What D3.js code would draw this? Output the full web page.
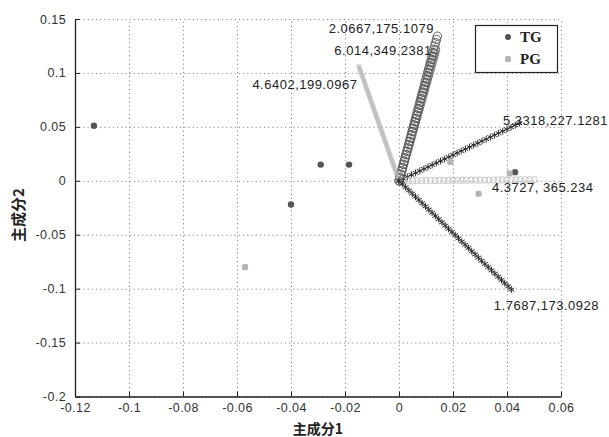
<!DOCTYPE html>
<html lang="zh">
<head>
<meta charset="UTF-8">
<title>主成分</title>
<script src="https://cdn.jsdelivr.net/npm/d3@7/dist/d3.min.js"></script>
<style>
  body { margin: 0; background: #fff; }
  text { font-family: "Liberation Sans", Arial, sans-serif; }
</style>
</head>
<body>
<svg width="609" height="437"></svg>
<script>
// 刻度
var xTicks = [-0.12, -0.1, -0.08, -0.06, -0.04, -0.02, 0, 0.02, 0.04, 0.06];
var yTicks = [-0.2, -0.15, -0.1, -0.05, 0, 0.05, 0.1, 0.15];

// 样本得分
var tgX = [-0.113, -0.029, -0.0185, -0.040, 0.043];
var tgY = [0.051, 0.015, 0.015, -0.022, 0.008];
var pgX = [-0.057, 0.0295, 0.019, 0.041];
var pgY = [-0.080, -0.012, 0.0175, 0.007];

// 载荷向量端点
var vecLabels = ["2.0667,175.1079", "6.014,349.2381", "4.6402,199.0967",
                 "5.3318,227.1281", "4.3727, 365.234", "1.7687,173.0928"];
var vecX = [0.0144, 0.0136, -0.0150, 0.0448, 0.050, 0.0418];
var vecY = [0.136, 0.122, 0.107, 0.0536, 0.001, -0.1013];

// 样式（与数据分开）
var vecStyle = [
  {type: "circle", color: "#505050", step: 3.4, size: 4.2, lx: -4, ly: -1, anchor: "end"},
  {type: "circle", color: "#5a5a5a", step: 3.4, size: 4.2, lx: -4, ly: 6, anchor: "end"},
  {type: "square", color: "#b4b4b4", step: 1.6, size: 4.5, lx: -1, ly: 24, anchor: "end"},
  {type: "star", color: "#2a2a2a", step: 4.6, size: 4, lx: -17, ly: 2, anchor: "start"},
  {type: "circle", color: "#c2c2c2", step: 4.5, size: 3.2, lx: -42, ly: 12, anchor: "start"},
  {type: "star", color: "#2a2a2a", step: 4.6, size: 4, lx: -18, ly: 20, anchor: "start"}
];

var svg = d3.select("svg");
var x = d3.scaleLinear().domain([-0.12, 0.06]).range([75, 561]);
var y = d3.scaleLinear().domain([-0.2, 0.15]).range([396.5, 19]);

// 网格
var grid = svg.append("g").attr("stroke", "#8a8a8a").attr("stroke-width", 1)
  .attr("stroke-dasharray", "1.2,3");
grid.selectAll(".gx").data(xTicks).enter().append("line")
  .attr("x1", d => x(d) + 0.5).attr("x2", d => x(d) + 0.5)
  .attr("y1", y(-0.2)).attr("y2", y(0.15));
grid.selectAll(".gy").data(yTicks).enter().append("line")
  .attr("x1", x(-0.12)).attr("x2", x(0.06))
  .attr("y1", d => y(d) + 0.5).attr("y2", d => y(d) + 0.5);

// 坐标轴
var fmt = d => String(+d.toFixed(2));
var xAxis = d3.axisBottom(x).tickValues(xTicks).tickSizeInner(-5).tickSizeOuter(0)
  .tickPadding(7).tickFormat(fmt);
var yAxis = d3.axisLeft(y).tickValues(yTicks).tickSizeInner(-5).tickSizeOuter(0)
  .tickPadding(9).tickFormat(fmt);

var gx = svg.append("g").attr("transform", "translate(0," + y(-0.2) + ")").call(xAxis);
var gy = svg.append("g").attr("transform", "translate(" + x(-0.12) + ",0)").call(yAxis);
[gx, gy].forEach(function(g) {
  g.select(".domain").attr("stroke", "#222").attr("stroke-width", 1.3);
  g.selectAll(".tick line").attr("stroke", "#222");
  g.selectAll(".tick text").attr("fill", "#333").attr("font-size", 12.5)
    .attr("letter-spacing", 0.4).attr("font-family", "Liberation Sans, Arial, sans-serif");
});

svg.append("text").attr("x", 318).attr("y", 434).attr("text-anchor", "middle")
  .attr("font-size", 14).attr("font-weight", "bold").attr("fill", "#222")
  .style("font-family", "'Noto Sans CJK SC', sans-serif").text("主成分1");
svg.append("text").attr("transform", "translate(24,215) rotate(-90)").attr("text-anchor", "middle")
  .attr("font-size", 15).attr("font-weight", "bold").attr("fill", "#222")
  .style("font-family", "'Noto Sans CJK SC', sans-serif").text("主成分2");

// 向量
var x0 = x(0), y0 = y(0);
var line = d3.line();
var vg = svg.append("g");
vecX.forEach(function(vx, i) {
  var st = vecStyle[i];
  var path = vg.append("path").attr("d", line([[x0, y0], [x(vx), y(vecY[i])]]))
    .attr("stroke", "none").attr("fill", "none");
  var node = path.node(), len = node.getTotalLength();
  var marks = vg.append("g");
  for (var s = 0; s <= len; s += st.step) {
    var p = node.getPointAtLength(s);
    if (st.type === "circle") {
      marks.append("circle").attr("cx", p.x).attr("cy", p.y).attr("r", st.size)
        .attr("fill", "none").attr("stroke", st.color).attr("stroke-width", 0.9);
    } else if (st.type === "square") {
      marks.append("rect").attr("x", p.x - st.size / 2).attr("y", p.y - st.size / 2)
        .attr("width", st.size).attr("height", st.size)
        .attr("fill", st.color).attr("opacity", 0.45);
    } else {
      marks.append("path").attr("transform", "translate(" + p.x + "," + p.y + ")")
        .attr("d", d3.symbol(d3.symbolAsterisk, 32)())
        .attr("fill", "none").attr("stroke", st.color).attr("stroke-width", 1);
    }
  }
  svg.append("text").attr("x", x(vx) + st.lx).attr("y", y(vecY[i]) + st.ly)
    .attr("text-anchor", st.anchor).attr("font-size", 13).attr("letter-spacing", 0.5)
    .attr("fill", "#222").text(vecLabels[i]);
});

// 样本点
svg.append("g").selectAll("circle").data(tgX).enter().append("circle")
  .attr("cx", d => x(d)).attr("cy", (d, i) => y(tgY[i])).attr("r", 3.2).attr("fill", "#555");
svg.append("g").selectAll("rect").data(pgX).enter().append("rect")
  .attr("x", d => x(d) - 3).attr("y", (d, i) => y(pgY[i]) - 3)
  .attr("width", 6).attr("height", 6).attr("rx", 1.5).attr("fill", "#b5b5b5");

// 图例
var lg = svg.append("g");
lg.append("rect").attr("x", 475.5).attr("y", 25.5).attr("width", 82).attr("height", 47)
  .attr("fill", "#fff").attr("stroke", "#222").attr("stroke-width", 1.2);
lg.append("circle").attr("cx", 508).attr("cy", 37).attr("r", 3).attr("fill", "#555");
lg.append("rect").attr("x", 505).attr("y", 56).attr("width", 6).attr("height", 6)
  .attr("rx", 1.5).attr("fill", "#b5b5b5");
lg.append("text").attr("x", 520).attr("y", 42).attr("font-size", 15).attr("font-weight", "bold")
  .style("font-family", "'Liberation Serif', serif").attr("fill", "#222").text("TG");
lg.append("text").attr("x", 520).attr("y", 64).attr("font-size", 15).attr("font-weight", "bold")
  .style("font-family", "'Liberation Serif', serif").attr("fill", "#222").text("PG");
</script>
</body>
</html>
